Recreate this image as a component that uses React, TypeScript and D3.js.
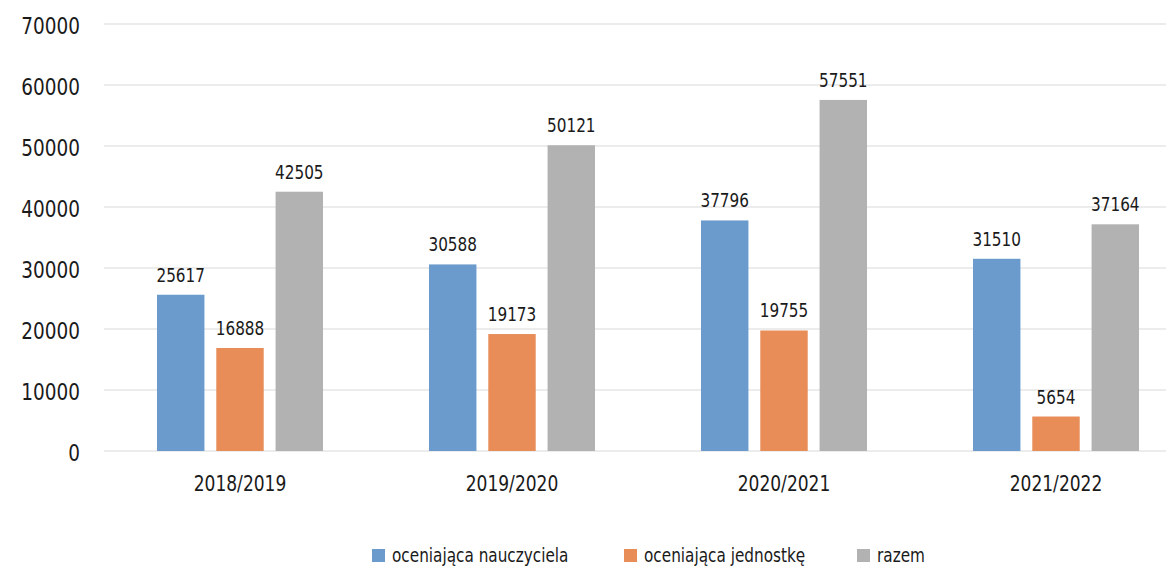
import React from "react";
import * as d3 from "d3";

const categories = ["2018/2019", "2019/2020", "2020/2021", "2021/2022"];
const seriesNames = ["oceniająca nauczyciela", "oceniająca jednostkę", "razem"];
const nauczyciela = [25617, 30588, 37796, 31510];
const jednostke = [16888, 19173, 19755, 5654];
const razem = [42505, 50121, 57551, 37164];
const yTicks = [0, 10000, 20000, 30000, 40000, 50000, 60000, 70000];
const colors = ["#6B9BCD", "#E88C58", "#B2B2B2"];

const W = 1166;
const H = 568;
const FONT = '"DejaVu Sans Condensed", "DejaVu Sans", sans-serif';
const STRETCH = 1.15;

function T({ x, y, anchor, size, children, central }: any) {
  return (
    <text
      transform={`translate(${x},${y}) scale(1,${STRETCH})`}
      textAnchor={anchor}
      dominantBaseline={central ? "central" : undefined}
      fontFamily={FONT}
      fontSize={size}
      fill="#1a1a1a"
    >
      {children}
    </text>
  );
}

export default function App() {
  const series = [nauczyciela, jednostke, razem];
  const x0 = d3.scaleBand<string>().domain(categories).range([104, 1192]).paddingInner(0).paddingOuter(0);
  const groupW = 166;
  const x1 = d3
    .scaleBand<number>()
    .domain([0, 1, 2])
    .range([0, groupW])
    .paddingInner(0.2)
    .paddingOuter(0);
  const y = d3.scaleLinear().domain([0, 70000]).range([451, 24]);

  const legendX = [372, 624, 857];

  return (
    <div style={{ position: "absolute", left: 0, top: 0 }}>
      <svg width={W} height={H} style={{ display: "block", background: "#fff" }}>
        {yTicks.map((t) => (
          <g key={t}>
            <line x1={104} x2={W} y1={y(t)} y2={y(t)} stroke="#D9D9D9" strokeWidth={1.2} />
            <T x={80} y={y(t) + 1} anchor="end" size={20.5} central>
              {t}
            </T>
          </g>
        ))}
        {categories.map((c, ci) => {
          const gx = x0(c)! + (x0.bandwidth() - groupW) / 2;
          return (
            <g key={c}>
              {series.map((s, si) => {
                const bx = gx + x1(si)!;
                const v = s[ci];
                return (
                  <g key={si}>
                    <rect x={bx} y={y(v)} width={x1.bandwidth()} height={y(0) - y(v)} fill={colors[si]} />
                    <T x={bx + x1.bandwidth() / 2} y={y(v) - 13} anchor="middle" size={17}>
                      {v}
                    </T>
                  </g>
                );
              })}
              <T x={x0(c)! + x0.bandwidth() / 2} y={491} anchor="middle" size={19}>
                {c}
              </T>
            </g>
          );
        })}
        {seriesNames.map((n, i) => (
          <g key={n}>
            <rect x={legendX[i]} y={549} width={13} height={13} fill={colors[i]} />
            <T x={legendX[i] + 20} y={562} anchor="start" size={17}>
              {n}
            </T>
          </g>
        ))}
      </svg>
    </div>
  );
}
